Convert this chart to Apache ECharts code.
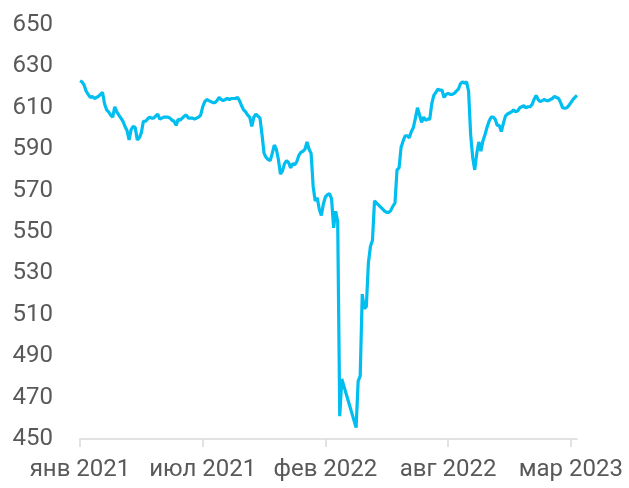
<!DOCTYPE html>
<html>
<head>
<meta charset="utf-8">
<script src="https://cdn.jsdelivr.net/npm/echarts@6/dist/echarts.min.js"></script>
<style>
html,body{margin:0;padding:0;background:#fff;}
#chart{width:629px;height:488px;}
</style>
</head>
<body>
<div id="chart"></div>
<script>
// Trading-day series (evenly spaced), null = exchange closed
const values = [
  623, 622.5, 621, 618, 616.5, 615, 615.5, 614.5, 615, 615.5,
  616.5, 617.5, 612, 609, 608, 606.5, 605.5, 610.5, 608, 606.5,
  605, 603.5, 601, 599, 594.5, 599.5, 601, 600.5, 594.5, 595.5,
  598, 603.5, 603.5, 604.5, 605.5, 605, 605, 606, 607, 604.5,
  605, 605.5, 605.5, 605.5, 605, 604, 603.5, 601.5, 604.5, 604,
  605, 606, 606.5, 605, 605, 605, 604.5, 605, 605.5, 606.5,
  610.5, 613, 614, 613.5, 613, 612.5, 612.5, 613.5, 615, 614,
  613.5, 614, 614.5, 614, 614.5, 614.5, 614.5, 615, 613.5, 611,
  609, 608, 606.5, 605.5, 601, 605.5, 607, 606, 605, 597,
  588, 586, 585, 584.5, 588, 592, 590, 585, 578, 579.5,
  583, 584.5, 583.5, 581, 583, 582.5, 584, 587, 588.5, 589,
  590, 593.5, 590, 588, 572, 565, 566.5, 561, 558, 563.5,
  567, 568, 568.5, 566, 552, 560, 555, 461, 479, null,
  null, null, null, null, null, 455.5, 478, 480.5, 520, 513,
  514, 535, 543, 546, 565, 564, 563, 562, 561, 560,
  559.5, 559.5, 560.5, 562.5, 564, 580, 581, 591, 594, 596.5,
  596.5, 595.5, 598.5, 600.5, 605, 610, 606.5, 603, 605.5, 604,
  604.5, 604.5, 612, 616, 617.5, 619, 618.5, 618.5, 615, 616.5,
  617, 616.5, 616.5, 617, 618, 619, 621.5, 622.5, 622, 622.5,
  618, 597, 586, 580, 588, 593.5, 589, 594, 597, 600.5,
  603.5, 605.5, 605.5, 604.5, 601.5, 601.5, 598.5, 602.5, 606, 607,
  607.5, 608, 609, 608, 608.5, 610, 610.5, 611, 610, 610.5,
  610.5, 611.5, 614, 616, 614, 613, 613.5, 614, 613.5, 613.5,
  614, 614.5, 615.5, 615, 614.5, 612.5, 610, 609.8, 610, 611,
  612.5, 614, 615, 616
];
// Tick labels every 60 trading days
const tickLabels = ['янв 2021', 'июл 2021', 'фев 2022', 'авг 2022', 'мар 2023'];
const tickStep = 60;
const days = values.map((v, i) => i);

const chart = echarts.init(document.getElementById('chart'), null, {renderer: 'canvas'});
chart.setOption({
  animation: false,
  grid: {left: 80, right: 52, top: 25, bottom: 49, containLabel: false},
  xAxis: {
    type: 'category',
    data: days,
    boundaryGap: false,
    axisLine: {show: true, lineStyle: {color: '#d9d9d9', width: 1.5}},
    axisTick: {show: true, length: 8, lineStyle: {color: '#d9d9d9', width: 1.5},
      interval: (idx) => idx % tickStep === 0},
    axisLabel: {
      interval: (idx) => idx % tickStep === 0,
      formatter: (val, idx) => tickLabels[Math.round(idx / tickStep)] || '',
      color: '#595959', fontSize: 24, fontFamily: 'Roboto', margin: 19
    },
    splitLine: {show: false}
  },
  yAxis: {
    type: 'value',
    min: 450, max: 650, interval: 20,
    axisLine: {show: false},
    axisTick: {show: false},
    splitLine: {show: false},
    axisLabel: {color: '#595959', fontSize: 24, fontFamily: 'Roboto', margin: 27, padding: [5, 0, 0, 0]}
  },
  series: [{
    type: 'line',
    data: values,
    showSymbol: false,
    symbol: 'none',
    connectNulls: true,
    lineStyle: {color: '#00BEF0', width: 3.2},
    itemStyle: {color: '#00BEF0'}
  }]
});
</script>
</body>
</html>
